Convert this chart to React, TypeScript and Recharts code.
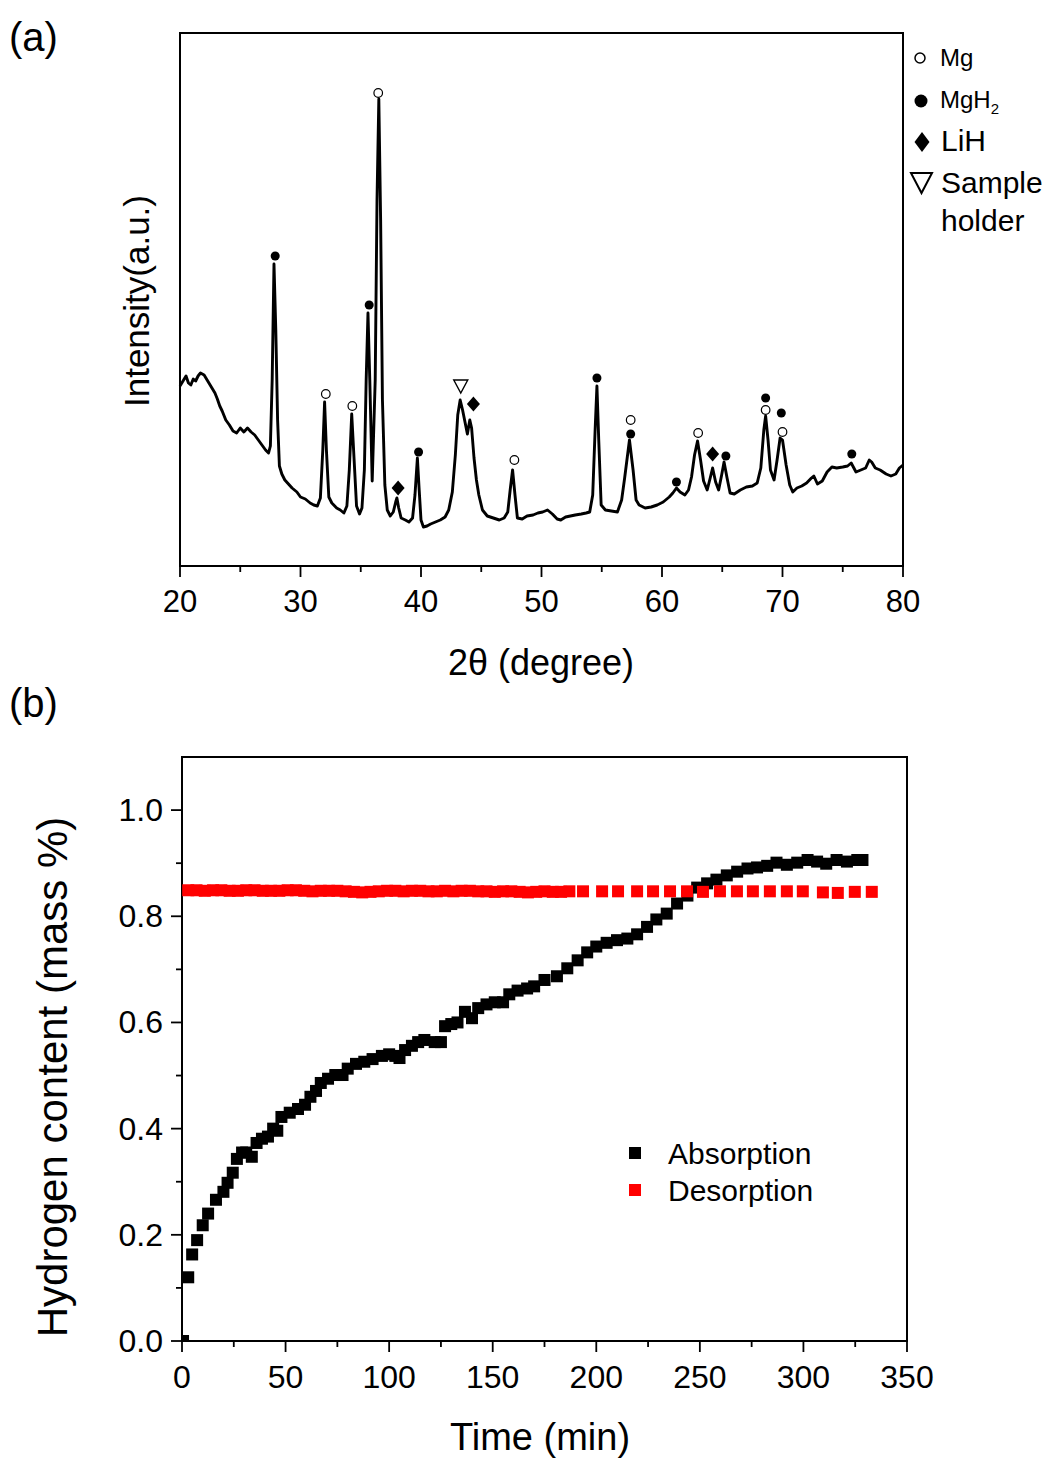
import React from "react";
import { ComposedChart, Line, Scatter, XAxis, YAxis, ReferenceArea, Label } from "recharts";

const FONT = "'Liberation Sans', Arial, Helvetica, sans-serif";

// ---------------- Panel (a): XRD pattern ----------------
const xrdTheta = [
  20.0, 20.3, 20.5, 20.7, 20.9, 21.1, 21.3, 21.5, 21.7, 22.0,
  22.3, 22.6, 22.9, 23.1, 23.3, 23.5, 23.8, 24.1, 24.4, 24.7,
  25.0, 25.3, 25.6, 25.9, 26.2, 26.5, 26.8, 27.1, 27.35, 27.5,
  27.65, 27.8, 27.95, 28.1, 28.25, 28.45, 28.7, 29.0, 29.3, 29.7,
  30.0, 30.4, 30.8, 31.1, 31.4, 31.65, 31.85, 32.0, 32.15, 32.35,
  32.6, 33.0, 33.3, 33.6, 33.85, 34.05, 34.25, 34.45, 34.65, 34.9,
  35.1, 35.3, 35.45, 35.6, 35.75, 35.95, 36.2, 36.35, 36.5, 36.65,
  36.8, 37.0, 37.2, 37.45, 37.7, 37.9, 38.0, 38.15, 38.35, 38.7,
  39.0, 39.3, 39.5, 39.7, 39.85, 40.0, 40.2, 40.5, 40.8, 41.2,
  41.6, 42.0, 42.3, 42.6, 42.85, 43.05, 43.25, 43.45, 43.65, 43.85,
  44.05, 44.2, 44.4, 44.6, 44.8, 45.1, 45.5, 46.0, 46.5, 46.9,
  47.2, 47.4, 47.6, 47.8, 48.0, 48.4, 48.8, 49.3, 49.7, 50.1,
  50.5, 50.9, 51.3, 51.6, 52.0, 52.4, 52.8, 53.3, 53.7, 54.0,
  54.25, 54.45, 54.6, 54.75, 54.95, 55.3, 55.8, 56.3, 56.65, 56.9,
  57.3, 57.6, 57.85, 58.1, 58.6, 59.1, 59.6, 60.1, 60.6, 60.9,
  61.2, 61.5, 61.9, 62.2, 62.45, 62.7, 62.95, 63.2, 63.45, 63.75,
  64.0, 64.2, 64.45, 64.7, 64.95, 65.15, 65.4, 65.65, 66.0, 66.5,
  67.0, 67.5, 67.9, 68.2, 68.45, 68.6, 68.8, 69.0, 69.3, 69.55,
  69.8, 70.0, 70.3, 70.6, 70.85, 71.2, 71.6, 72.0, 72.4, 72.6,
  72.9, 73.3, 73.7, 74.1, 74.5, 75.0, 75.4, 75.7, 76.1, 76.5,
  76.9, 77.2, 77.4, 77.7, 78.1, 78.6, 79.0, 79.4, 79.7, 80.0,
];
const xrdIntensity = [
  180, 186, 190, 183, 181, 187, 185, 190, 193, 191,
  185, 179, 173, 167, 160, 155, 146, 141, 135, 133,
  138, 134, 138, 134, 131, 126, 121, 116, 113, 120,
  186, 302, 236, 146, 100, 92, 86, 82, 78, 74,
  69, 67, 63, 61, 60, 68, 116, 164, 116, 69,
  63, 58, 56, 53, 60, 96, 152, 106, 60, 52,
  58, 96, 186, 253, 186, 85, 186, 366, 467, 346,
  166, 81, 56, 50, 54, 64, 68, 58, 48, 46,
  44, 48, 71, 108, 76, 46, 39, 40, 42, 44,
  46, 49, 56, 74, 111, 151, 166, 156, 144, 132,
  146, 138, 108, 86, 71, 56, 50, 48, 46, 48,
  54, 76, 96, 71, 48, 47, 50, 51, 53, 54,
  56, 52, 47, 46, 49, 50, 51, 52, 53, 54,
  71, 136, 180, 126, 61, 56, 55, 54, 66, 88,
  126, 96, 66, 61, 58, 59, 61, 64, 69, 73,
  78, 74, 71, 76, 89, 111, 125, 106, 85, 76,
  88, 98, 84, 76, 91, 104, 88, 73, 72, 76,
  79, 80, 83, 98, 136, 150, 126, 96, 86, 106,
  128, 126, 101, 81, 74, 78, 80, 83, 88, 90,
  82, 85, 94, 99, 98, 99, 100, 103, 94, 96,
  98, 106, 104, 98, 96, 92, 90, 92, 98, 101,
];

// peak markers (2θ, marker height)
const mgTheta = [36.45, 32.1, 34.3, 47.75, 57.4, 63.0, 68.6, 70.0];
const mgHeight = [473, 172, 160, 106, 146, 133, 156, 134];
const mgh2Theta = [27.9, 35.7, 39.8, 54.6, 57.4, 61.2, 65.3, 68.6, 69.9, 75.75];
const mgh2Height = [310, 261, 114, 188, 132, 84, 110, 168, 153, 112];
const lihTheta = [38.1, 44.35, 64.2];
const lihHeight = [78, 162, 112];
const holderTheta = [43.3];
const holderHeight = [180];

const xrdTicks = [20, 25, 30, 35, 40, 45, 50, 55, 60, 65, 70, 75, 80];
const xrdTickLabels = [20, 30, 40, 50, 60, 70, 80];

// ---------------- Panel (b): hydrogen content ----------------
const absorptionTime = [
  0.5, 3, 4.9, 7.3, 10, 12.6, 16.4, 20, 22, 24.5,
  26.5, 29, 31, 33.7, 36, 38.6, 41.5, 44, 46, 48,
  52, 56, 59.4, 62, 64.7, 67, 70.5, 74, 77.5, 80,
  84, 88, 92, 96.5, 100, 103, 105, 107.7, 111, 114,
  117, 122, 125, 127, 130, 133, 136.6, 140, 143, 147,
  151, 155, 158, 162, 166.6, 170, 175, 181, 186, 191,
  195.6, 200, 205, 210, 215, 219.7, 224.5, 229, 234, 239,
  244, 248.7, 253.5, 258, 263, 268, 273, 277.6, 282.5, 287,
  292, 297, 302, 306.6, 311, 316, 321, 326, 328.5,
];
const absorptionValue = [
  0.0, 0.12, 0.163, 0.19, 0.218, 0.24, 0.266, 0.281, 0.298, 0.317,
  0.343, 0.355, 0.355, 0.347, 0.373, 0.381, 0.385, 0.4, 0.396, 0.422,
  0.43, 0.437, 0.445, 0.46, 0.471, 0.486, 0.494, 0.501, 0.501, 0.513,
  0.522, 0.526, 0.531, 0.537, 0.54, 0.537, 0.533, 0.548, 0.556, 0.563,
  0.567, 0.563, 0.563, 0.593, 0.597, 0.6, 0.62, 0.608, 0.627, 0.634,
  0.638, 0.638, 0.653, 0.66, 0.664, 0.668, 0.68, 0.687, 0.702, 0.717,
  0.732, 0.743, 0.75, 0.755, 0.758, 0.766, 0.78, 0.794, 0.805, 0.824,
  0.839, 0.854, 0.862, 0.869, 0.877, 0.884, 0.89, 0.892, 0.895, 0.901,
  0.897, 0.901, 0.906, 0.903, 0.899, 0.906, 0.903, 0.906, 0.906,
];
const desorptionTime = [
  3, 7, 11, 15, 19, 23, 27, 31, 35, 39,
  43, 47, 51, 55, 59, 63, 67, 71, 75, 79,
  83, 87, 91, 95, 99, 103, 107, 111, 115, 119,
  123, 127, 131, 135, 139, 143, 147, 151, 155, 159,
  163, 167, 171, 175, 179, 183, 187,
  193.6, 202.8, 210.5, 219.7, 227.4, 235.6, 243.8, 251.5, 259.7, 267.9,
  275.6, 283.8, 292, 299.7, 309.4, 316.6, 324.8, 333,
];
const desorptionValue = [
  0.849, 0.849, 0.848, 0.849, 0.849, 0.848, 0.848, 0.849, 0.849, 0.848,
  0.848, 0.848, 0.849, 0.849, 0.848, 0.847, 0.848, 0.848, 0.848, 0.847,
  0.846, 0.845, 0.846, 0.847, 0.848, 0.848, 0.847, 0.848, 0.848, 0.847,
  0.847, 0.848, 0.847, 0.848, 0.848, 0.847, 0.847, 0.846, 0.847, 0.847,
  0.846, 0.845, 0.846, 0.847, 0.846, 0.846, 0.847,
  0.847, 0.847, 0.847, 0.847, 0.847, 0.847, 0.847, 0.846, 0.847, 0.847,
  0.847, 0.847, 0.847, 0.847, 0.845, 0.844, 0.846, 0.846,
];

const timeTicks = [0, 25, 50, 75, 100, 125, 150, 175, 200, 225, 250, 275, 300, 325, 350];
const timeTickLabels = [0, 50, 100, 150, 200, 250, 300, 350];
const contentTicks = [0, 0.1, 0.2, 0.3, 0.4, 0.5, 0.6, 0.7, 0.8, 0.9, 1.0];
const contentTickLabels = [0, 0.2, 0.4, 0.6, 0.8, 1.0];

// ---------------- helpers ----------------
const pairs = (xs: number[], ys: number[], kx: string, ky: string) =>
  xs.map((x, i) => ({ [kx]: x, [ky]: ys[i] }));

const xrdData = pairs(xrdTheta, xrdIntensity, "x", "y");
const mgData = pairs(mgTheta, mgHeight, "x", "y");
const mgh2Data = pairs(mgh2Theta, mgh2Height, "x", "y");
const lihData = pairs(lihTheta, lihHeight, "x", "y");
const holderData = pairs(holderTheta, holderHeight, "x", "y");
const absorptionData = pairs(absorptionTime, absorptionValue, "t", "v");
const desorptionData = pairs(desorptionTime, desorptionValue, "t", "v");

const isIn = (arr: number[], v: number) => arr.some((a) => Math.abs(a - v) < 1e-6);

const makeXTick = (labels: number[], fontSize: number, labelDy: number, fmt: (v: number) => string) =>
  (props: any) => {
    const { x, y, payload } = props;
    const major = isIn(labels, payload.value);
    return (
      <g>
        <line x1={x} y1={y} x2={x} y2={y + (major ? 11 : 6)} stroke="#000" strokeWidth={1.8} />
        {major && (
          <text x={x} y={y + labelDy} textAnchor="middle" dominantBaseline="central"
            fontSize={fontSize} fontFamily={FONT} fill="#000">
            {fmt(payload.value)}
          </text>
        )}
      </g>
    );
  };

const makeYTick = (labels: number[], fontSize: number, labelDx: number, fmt: (v: number) => string) =>
  (props: any) => {
    const { x, y, payload } = props;
    const major = isIn(labels, payload.value);
    return (
      <g>
        <line x1={x} y1={y} x2={x - (major ? 11 : 6)} y2={y} stroke="#000" strokeWidth={1.8} />
        {major && (
          <text x={x - labelDx} y={y} textAnchor="end" dominantBaseline="central"
            fontSize={fontSize} fontFamily={FONT} fill="#000">
            {fmt(payload.value)}
          </text>
        )}
      </g>
    );
  };

const OpenCircle = (p: any) => (
  <circle cx={p.cx} cy={p.cy} r={4.3} fill="#fff" stroke="#000" strokeWidth={1.2} />
);
const FilledCircle = (p: any) => <circle cx={p.cx} cy={p.cy} r={4.5} fill="#000" />;
const Diamond = (p: any) => (
  <path d={`M${p.cx},${p.cy - 7.5} L${p.cx + 6.5},${p.cy} L${p.cx},${p.cy + 7.5} L${p.cx - 6.5},${p.cy} Z`} fill="#000" />
);
const DownTriangle = (p: any) => (
  <path d={`M${p.cx - 7},${p.cy - 6} L${p.cx + 7},${p.cy - 6} L${p.cx},${p.cy + 7} Z`} fill="#fff" stroke="#000" strokeWidth={1.4} />
);
const BlackSquare = (p: any) => <rect x={p.cx - 6} y={p.cy - 6} width={12} height={12} fill="#000" />;
const RedSquare = (p: any) => <rect x={p.cx - 6} y={p.cy - 6} width={12} height={12} fill="#ff0000" />;

export default function App() {
  return (
    <div style={{ position: "absolute", left: 0, top: 0, width: 1052, height: 1459, background: "#fff" }}>
      {/* Panel (a) */}
      <div style={{ position: "absolute", left: 0, top: 0 }}>
        <ComposedChart width={1052} height={700} margin={{ top: 33, right: 149, bottom: 14, left: 180 }}>
          <XAxis
            type="number"
            dataKey="x"
            domain={[20, 80]}
            ticks={xrdTicks}
            interval={0}
            height={120}
            axisLine={false}
            tickLine={false}
            tickSize={0}
            tickMargin={0}
            tick={makeXTick(xrdTickLabels, 31, 35, (v) => String(v))}
          >
            <Label
              content={() => (
                <g>
                  <text x={541} y={662} textAnchor="middle" dominantBaseline="central" fontSize={36} fontFamily={FONT} fill="#000">
                    2θ (degree)
                  </text>
                  <text x={136} y={301} textAnchor="middle" dominantBaseline="central" fontSize={35} fontFamily={FONT} fill="#000"
                    transform="rotate(-90, 136, 301)">
                    Intensity(a.u.)
                  </text>
                </g>
              )}
            />
          </XAxis>
          <YAxis type="number" dataKey="y" domain={[0, 533]} hide />
          <ReferenceArea x1={20} x2={80} y1={0} y2={533} fill="none" fillOpacity={0} stroke="#000" strokeWidth={2} />
          <Line data={xrdData} type="linear" dataKey="y" stroke="#000" strokeWidth={2.9} strokeLinejoin="round" dot={false} isAnimationActive={false} />
          <Scatter data={mgData} dataKey="y" shape={OpenCircle} isAnimationActive={false} />
          <Scatter data={mgh2Data} dataKey="y" shape={FilledCircle} isAnimationActive={false} />
          <Scatter data={lihData} dataKey="y" shape={Diamond} isAnimationActive={false} />
          <Scatter data={holderData} dataKey="y" shape={DownTriangle} isAnimationActive={false} />
        </ComposedChart>
      </div>

      {/* Panel (b) */}
      <div style={{ position: "absolute", left: 0, top: 700 }}>
        <ComposedChart width={1052} height={759} margin={{ top: 57, right: 145, bottom: 18, left: 82 }}>
          <XAxis
            type="number"
            dataKey="t"
            domain={[0, 350]}
            ticks={timeTicks}
            interval={0}
            allowDataOverflow
            height={100}
            axisLine={false}
            tickLine={false}
            tickSize={0}
            tickMargin={0}
            tick={makeXTick(timeTickLabels, 32, 36, (v) => String(v))}
          >
            <Label
              content={() => (
                <text x={540} y={737} textAnchor="middle" dominantBaseline="central" fontSize={38} fontFamily={FONT} fill="#000">
                  Time (min)
                </text>
              )}
            />
          </XAxis>
          <YAxis
            type="number"
            dataKey="v"
            domain={[0, 1.1]}
            ticks={contentTicks}
            interval={0}
            allowDataOverflow
            width={100}
            axisLine={false}
            tickLine={false}
            tickSize={0}
            tickMargin={0}
            tick={makeYTick(contentTickLabels, 32, 19, (v) => v.toFixed(1))}
          >
            <Label
              content={() => (
                <text x={52} y={377} textAnchor="middle" dominantBaseline="central" fontSize={42} fontFamily={FONT} fill="#000"
                  transform="rotate(-90, 52, 377)">
                  Hydrogen content (mass %)
                </text>
              )}
            />
          </YAxis>
          <ReferenceArea x1={0} x2={350} y1={0} y2={1.1} fill="none" fillOpacity={0} stroke="#000" strokeWidth={2} />
          <Scatter name="Absorption" data={absorptionData} dataKey="v" shape={BlackSquare} isAnimationActive={false} />
          <Scatter name="Desorption" data={desorptionData} dataKey="v" shape={RedSquare} isAnimationActive={false} />
        </ComposedChart>
      </div>

      {/* Panel labels and legends */}
      <svg width={1052} height={1459} style={{ position: "absolute", left: 0, top: 0, pointerEvents: "none" }}>
        <g fontFamily={FONT} fill="#000">
          <text x={9} y={37} fontSize={40} dominantBaseline="central">(a)</text>
          <text x={9} y={703} fontSize={40} dominantBaseline="central">(b)</text>

          <circle cx={920} cy={58} r={5} fill="#fff" stroke="#000" strokeWidth={1.5} />
          <text x={940} y={57} fontSize={24} dominantBaseline="central">Mg</text>
          <circle cx={921} cy={101} r={6.5} fill="#000" />
          <text x={940} y={99} fontSize={24} dominantBaseline="central">
            MgH<tspan fontSize={15} dy={9}>2</tspan>
          </text>
          <path d="M922,132 L929.5,142 L922,152 L914.5,142 Z" fill="#000" />
          <text x={941} y={140} fontSize={30} dominantBaseline="central">LiH</text>
          <path d="M911,173 L932,173 L921.5,193 Z" fill="#fff" stroke="#000" strokeWidth={2} />
          <text x={941} y={182} fontSize={30} dominantBaseline="central">Sample</text>
          <text x={941} y={220} fontSize={30} dominantBaseline="central">holder</text>

          <rect x={629} y={1147} width={12} height={12} fill="#000" />
          <text x={668} y={1153} fontSize={30} dominantBaseline="central">Absorption</text>
          <rect x={629} y={1184} width={12} height={12} fill="#ff0000" />
          <text x={668} y={1190} fontSize={30} dominantBaseline="central">Desorption</text>
        </g>
      </svg>
    </div>
  );
}
